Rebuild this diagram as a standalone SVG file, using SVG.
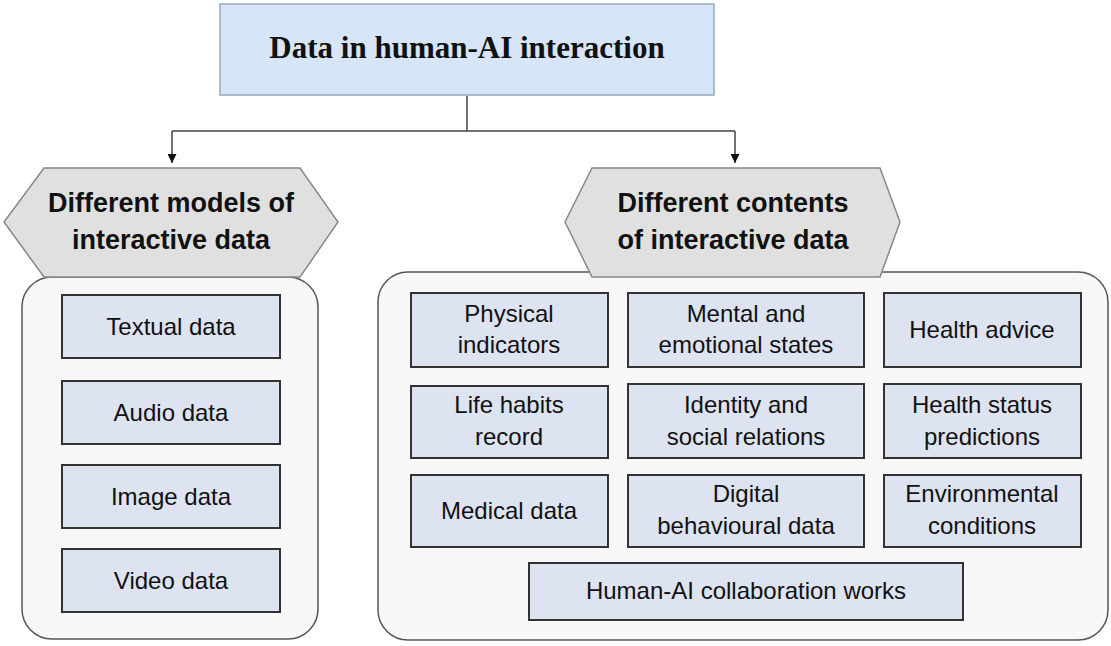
<svg xmlns="http://www.w3.org/2000/svg" width="1111" height="646" viewBox="0 0 1111 646">
<style>
.box{fill:#dde3f0;stroke:#333;stroke-width:2}
.cont{fill:#f8f8f8;stroke:#555;stroke-width:1.5}
.hex{fill:#e0e0e0;stroke:#888;stroke-width:1.5}
.t{font-family:"Liberation Sans",Arial,sans-serif;font-size:24px;fill:#111;text-anchor:middle}
.h{font-family:"Liberation Sans",Arial,sans-serif;font-size:27px;font-weight:bold;fill:#111;text-anchor:middle}
.ln{fill:none;stroke:#444;stroke-width:1.5}
</style>
<defs><marker id="ar" viewBox="0 0 10 10" refX="10" refY="5" markerWidth="9" markerHeight="9" markerUnits="userSpaceOnUse" orient="auto"><path d="M0,0L10,5L0,10Z" fill="#111"/></marker></defs>
<rect width="1111" height="646" fill="#fff"/>
<g id="connectors">
<path class="ln" d="M467,96V131M172,131H735M172,131V163" marker-end="url(#ar)"/>
<path class="ln" d="M735,131V163" marker-end="url(#ar)"/>
</g>
<g id="root"><rect x="220" y="4" width="494" height="91" fill="#d6e5f8" stroke="#9ab" stroke-width="1.5"/>
<text x="467" y="58" font-family="Liberation Serif,serif" font-size="31" font-weight="bold" text-anchor="middle" fill="#111">Data in human-AI interaction</text></g>
<g id="left">
<rect class="cont" x="22" y="277" width="296" height="362" rx="30"/>
<path class="hex" d="M44,168H300L338,222L300,277H44L4,222Z"/>
<text class="h" x="171" y="212">Different models of</text>
<text class="h" x="171" y="249">interactive data</text>
</g>
<g id="textual"><rect class="box" x="62" y="295" width="218" height="63"/><text class="t" x="171" y="335">Textual data</text></g>
<g id="audio"><rect class="box" x="62" y="381" width="218" height="63"/><text class="t" x="171" y="421">Audio data</text></g>
<g id="image"><rect class="box" x="62" y="465" width="218" height="63"/><text class="t" x="171" y="505">Image data</text></g>
<g id="video"><rect class="box" x="62" y="549" width="218" height="63"/><text class="t" x="171" y="589">Video data</text></g>
<g id="right">
<rect class="cont" x="378" y="272" width="730" height="368" rx="30"/>
<path class="hex" d="M592,168H880L900,222L880,277H592L565,222Z"/>
<text class="h" x="733" y="212">Different contents</text>
<text class="h" x="733" y="249">of interactive data</text>
</g>
<g id="physical"><rect class="box" x="411" y="293" width="197" height="74"/><text class="t" x="509" y="322">Physical</text><text class="t" x="509" y="353">indicators</text></g>
<g id="mental"><rect class="box" x="628" y="293" width="236" height="74"/><text class="t" x="746" y="322">Mental and</text><text class="t" x="746" y="353">emotional states</text></g>
<g id="advice"><rect class="box" x="884" y="293" width="197" height="74"/><text class="t" x="982" y="338">Health advice</text></g>
<g id="life"><rect class="box" x="411" y="386" width="197" height="72"/><text class="t" x="509" y="413">Life habits</text><text class="t" x="509" y="445">record</text></g>
<g id="identity"><rect class="box" x="628" y="384" width="236" height="74"/><text class="t" x="746" y="413">Identity and</text><text class="t" x="746" y="445">social relations</text></g>
<g id="status"><rect class="box" x="884" y="384" width="197" height="74"/><text class="t" x="982" y="413">Health status</text><text class="t" x="982" y="445">predictions</text></g>
<g id="medical"><rect class="box" x="411" y="475" width="197" height="72"/><text class="t" x="509" y="519">Medical data</text></g>
<g id="digital"><rect class="box" x="628" y="475" width="236" height="72"/><text class="t" x="746" y="502">Digital</text><text class="t" x="746" y="534">behavioural data</text></g>
<g id="env"><rect class="box" x="884" y="475" width="197" height="72"/><text class="t" x="982" y="502">Environmental</text><text class="t" x="982" y="534">conditions</text></g>
<g id="collab"><rect class="box" x="529" y="563" width="434" height="57"/><text class="t" x="746" y="599">Human-AI collaboration works</text></g>
</svg>
